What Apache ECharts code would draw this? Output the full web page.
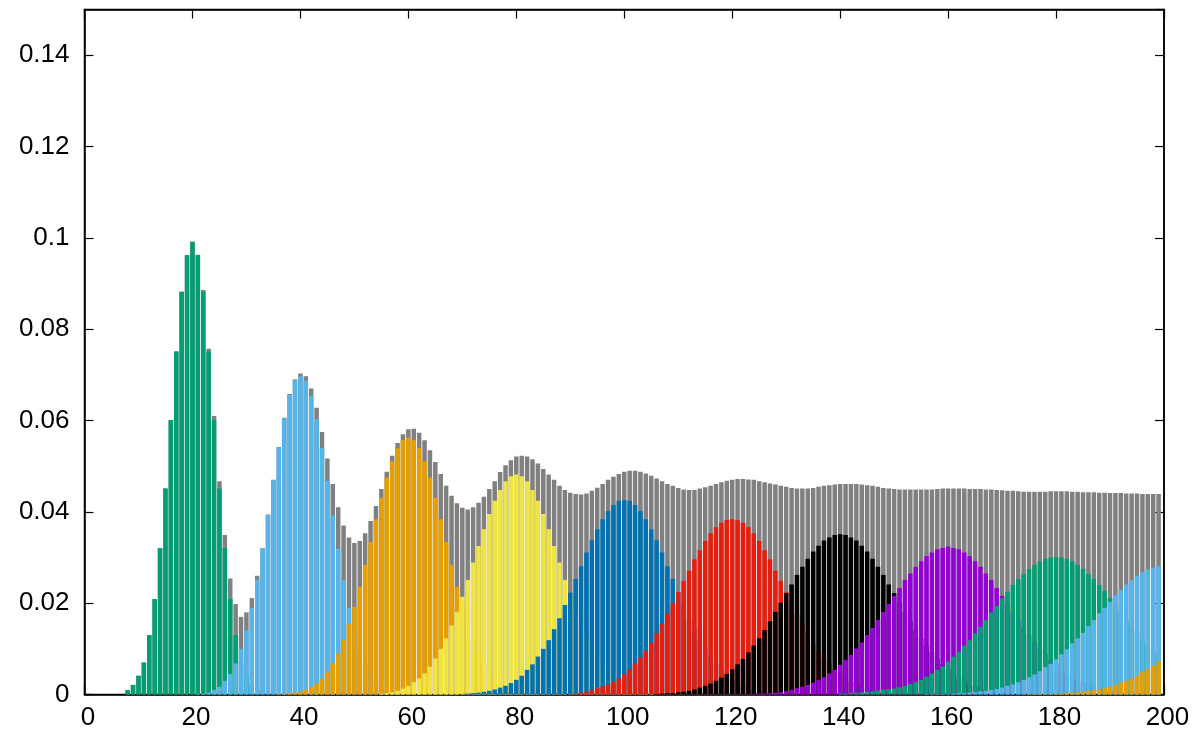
<!DOCTYPE html>
<html>
<head>
<meta charset="utf-8">
<script src="https://cdn.jsdelivr.net/npm/echarts@6/dist/echarts.min.js"></script>
<style>
html,body{margin:0;padding:0;background:#fff;}
#chart{width:1194px;height:731px;}
</style>
</head>
<body>
<div id="chart"></div>
<script>
// ---- tick labels ----
const xTickValues = [0, 20, 40, 60, 80, 100, 120, 140, 160, 180, 200];
const yTickValues = [0, 0.02, 0.04, 0.06, 0.08, 0.1, 0.12, 0.14];

// ---- total (gray), x = 8..199 ----
const totalStart = 8;
const totalValues = [
  0.0010,0.0021,0.0041,0.0070,0.0130,0.0209,0.0320,0.0451,0.0601,0.0751,0.0882,0.0962,0.0992,
  0.0963,0.0886,0.0757,0.0610,0.0467,0.0349,0.0254,0.0198,0.0170,0.0180,
  0.0211,0.0260,0.0320,0.0394,0.0470,0.0542,0.0606,0.0658,0.0690,0.0703,
  0.0697,0.0670,0.0628,0.0575,0.0517,0.0461,0.0410,0.0370,0.0344,0.0332,
  0.0336,0.0353,0.0380,0.0413,0.0450,0.0488,0.0523,0.0551,0.0570,0.0581,
  0.0582,0.0573,0.0557,0.0535,0.0509,0.0483,0.0457,0.0435,0.0419,0.0409,
  0.0405,0.0410,0.0420,0.0433,0.0450,0.0467,0.0487,0.0502,0.0513,0.0521,
  0.0523,0.0521,0.0515,0.0506,0.0494,0.0482,0.0470,0.0457,0.0448,0.0442,
  0.0439,0.0438,0.0440,0.0446,0.0453,0.0461,0.0470,0.0477,0.0483,0.0488,
  0.0490,0.0490,0.0488,0.0484,0.0479,0.0473,0.0467,0.0461,0.0457,0.0452,
  0.0449,0.0448,0.0448,0.0451,0.0454,0.0457,0.0461,0.0465,0.0468,0.0470,
  0.0472,0.0472,0.0471,0.0470,0.0467,0.0465,0.0462,0.0460,0.0457,0.0455,
  0.0452,0.0451,0.0451,0.0451,0.0452,0.0455,0.0457,0.0458,0.0460,0.0461,
  0.0461,0.0461,0.0461,0.0460,0.0458,0.0457,0.0455,0.0452,0.0451,0.0450,
  0.0449,0.0449,0.0449,0.0449,0.0449,0.0449,0.0449,0.0450,0.0451,0.0451,
  0.0451,0.0451,0.0451,0.0450,0.0450,0.0450,0.0449,0.0449,0.0448,0.0447,
  0.0446,0.0446,0.0445,0.0444,0.0444,0.0444,0.0444,0.0444,0.0445,0.0445,
  0.0445,0.0445,0.0444,0.0444,0.0443,0.0443,0.0443,0.0442,0.0442,0.0441,
  0.0441,0.0441,0.0440,0.0440,0.0440,0.0439,0.0439,0.0439,0.0439
];

// ---- individual distributions ----
const k1Start = 8;
const k1Values = [0.0010,0.0021,0.0041,0.0070,0.0130,0.0209,0.0320,0.0451,0.0601,0.0751,0.0882,0.0962,0.0991,
  0.0962,0.0882,0.0751,0.0601,0.0451,0.0321,0.0209,0.0130,0.0070,0.0041,0.0021,0.0010];

const k2Start = 21;
const k2Values = [0.0001,0.0002,0.0004,0.0010,0.0017,0.0030,0.0045,0.0068,0.0100,0.0140,0.0190,0.0251,0.0319,
  0.0393,0.0469,0.0541,0.0605,0.0656,0.0687,0.0697,0.0687,0.0654,0.0603,0.0540,0.0468,0.0392,0.0319,
  0.0251,0.0190,0.0140,0.0100,0.0068,0.0045,0.0030,0.0017,0.0010,0.0004,0.0002,0.0001];

const k3Start = 36;
const k3Values = [0.0001,0.0002,0.0003,0.0004,0.0006,0.0011,0.0016,0.0024,0.0035,0.0050,0.0068,0.0090,0.0119,
  0.0154,0.0192,0.0236,0.0284,0.0334,0.0384,0.0431,0.0475,0.0511,0.0539,0.0557,0.0563,
  0.0557,0.0539,0.0511,0.0475,0.0431,0.0384,0.0334,0.0284,0.0236,0.0192,0.0154,0.0119,
  0.0090,0.0068,0.0050,0.0035,0.0024,0.0016,0.0011,0.0006,0.0004,0.0003,0.0002,0.0001];

const k4Start = 55;
const k4Values = [0.0002,0.0003,0.0005,0.0008,0.0013,0.0019,0.0027,0.0035,0.0046,0.0061,0.0079,0.0100,0.0123,
  0.0151,0.0181,0.0214,0.0251,0.0289,0.0325,0.0362,0.0395,0.0424,0.0448,0.0467,0.0478,0.0482,
  0.0478,0.0467,0.0448,0.0424,0.0395,0.0362,0.0325,0.0289,0.0251,0.0214,0.0181,0.0151,0.0123,
  0.0100,0.0079,0.0061,0.0046,0.0035,0.0027,0.0019,0.0013,0.0008,0.0005,0.0003,0.0002];

const k5Start = 70;
const k5Values = [0.0001,0.0002,0.0003,0.0004,0.0006,0.0008,0.0011,0.0015,0.0019,0.0025,0.0032,0.0041,0.0054,
  0.0066,0.0083,0.0100,0.0119,0.0143,0.0167,0.0196,0.0223,0.0253,0.0281,0.0311,0.0338,0.0362,
  0.0384,0.0402,0.0415,0.0424,0.0426,
  0.0424,0.0415,0.0402,0.0384,0.0362,0.0338,0.0311,0.0281,0.0253,0.0223,0.0196,0.0167,0.0143,
  0.0119,0.0100,0.0083,0.0066,0.0054,0.0041,0.0032,0.0025,0.0019,0.0015,0.0011,0.0008,0.0006,
  0.0004,0.0003,0.0002,0.0001];

const k6Start = 90;
const k6Values = [0.0001,0.0002,0.0004,0.0006,0.0010,0.0014,0.0018,0.0022,0.0028,0.0035,0.0045,0.0055,0.0068,
  0.0081,0.0096,0.0113,0.0134,0.0155,0.0177,0.0200,0.0224,0.0249,0.0271,0.0296,0.0316,0.0336,
  0.0353,0.0366,0.0376,0.0382,0.0384,
  0.0382,0.0376,0.0366,0.0353,0.0336,0.0316,0.0296,0.0271,0.0249,0.0224,0.0200,0.0177,0.0155,
  0.0134,0.0113,0.0096,0.0081,0.0068,0.0055,0.0045,0.0035,0.0028,0.0022,0.0018,0.0014,0.0010,
  0.0006,0.0004,0.0002,0.0001];

const k7Start = 106;
const k7Values = [0.0001,0.0002,0.0003,0.0003,0.0005,0.0006,0.0008,0.0011,0.0015,0.0019,0.0024,0.0030,0.0037,
  0.0045,0.0055,0.0066,0.0078,0.0092,0.0107,0.0123,0.0141,0.0161,0.0181,0.0201,0.0222,0.0241,
  0.0262,0.0280,0.0297,0.0313,0.0326,0.0337,0.0344,0.0349,0.0351,
  0.0349,0.0344,0.0337,0.0326,0.0313,0.0297,0.0280,0.0262,0.0241,0.0222,0.0201,0.0181,0.0161,
  0.0141,0.0123,0.0107,0.0092,0.0078,0.0066,0.0055,0.0045,0.0037,0.0030,0.0024,0.0019,0.0015,
  0.0011,0.0008,0.0006,0.0005,0.0003,0.0003,0.0002,0.0001];

const k8Start = 124;
const k8Values = [0.0001,0.0002,0.0002,0.0003,0.0004,0.0005,0.0007,0.0010,0.0014,0.0017,0.0021,0.0026,0.0032,
  0.0038,0.0046,0.0054,0.0065,0.0076,0.0087,0.0101,0.0114,0.0130,0.0146,0.0163,0.0181,0.0198,
  0.0216,0.0233,0.0251,0.0265,0.0280,0.0292,0.0303,0.0311,0.0318,0.0321,0.0324,
  0.0321,0.0318,0.0311,0.0303,0.0292,0.0280,0.0265,0.0251,0.0233,0.0216,0.0198,0.0181,0.0163,
  0.0146,0.0130,0.0114,0.0101,0.0087,0.0076,0.0065,0.0054,0.0046,0.0038,0.0032,0.0026,0.0021,
  0.0017,0.0014,0.0010,0.0007,0.0005,0.0004,0.0003,0.0002,0.0002,0.0001];

const k9Start = 140;
const k9Values = [0.0002,0.0002,0.0003,0.0004,0.0005,0.0006,0.0007,0.0009,0.0011,0.0012,0.0013,0.0016,0.0019,
  0.0023,0.0027,0.0032,0.0039,0.0046,0.0054,0.0061,0.0072,0.0083,0.0094,0.0107,0.0119,0.0134,
  0.0148,0.0163,0.0180,0.0194,0.0211,0.0225,0.0240,0.0253,0.0264,0.0275,0.0284,0.0291,0.0297,
  0.0300,0.0301,
  0.0300,0.0297,0.0291,0.0284,0.0275,0.0264,0.0253,0.0240,0.0227,0.0211,0.0194,0.0180,0.0163,
  0.0148,0.0134,0.0119,0.0107,0.0094,0.0083];

const k10Start = 156;
const k10Values = [0.0001,0.0001,0.0001,0.0001,0.0001,0.0002,0.0003,0.0003,0.0004,0.0005,0.0007,0.0008,0.0010,
  0.0012,0.0015,0.0019,0.0022,0.0027,0.0032,0.0038,0.0044,0.0051,0.0060,0.0067,0.0077,0.0088,
  0.0099,0.0112,0.0123,0.0135,0.0150,0.0163,0.0178,0.0190,0.0203,0.0218,0.0229,0.0241,0.0251,
  0.0260,0.0268,0.0274,0.0278,0.0281];

const k11Start = 175;
const k11Values = [0.0001,0.0001,0.0001,0.0001,0.0001,0.0002,0.0002,0.0003,0.0004,0.0005,0.0006,0.0008,0.0010,
  0.0011,0.0014,0.0017,0.0021,0.0026,0.0030,0.0035,0.0041,0.0049,0.0056,0.0063,0.0072];

const seriesColors = ['#808080','#009e73','#56b4e9','#e69f00','#f0e442','#0072b2','#e51e10','#000000','#9400d3','#009e73','#56b4e9','#e69f00'];
const seriesList = [
  [totalStart, totalValues],
  [k1Start, k1Values], [k2Start, k2Values], [k3Start, k3Values], [k4Start, k4Values],
  [k5Start, k5Values], [k6Start, k6Values], [k7Start, k7Values], [k8Start, k8Values],
  [k9Start, k9Values], [k10Start, k10Values], [k11Start, k11Values]
];

const FONT = 'Liberation Sans, Arial, Helvetica, sans-serif';
const chart = echarts.init(document.getElementById('chart'), null, {renderer: 'canvas'});

const series = seriesList.map(function (s, i) {
  return {
    type: 'bar',
    xAxisIndex: 0,
    yAxisIndex: 0,
    barWidth: 4.5,
    barGap: '-100%',
    silent: true,
    animation: false,
    itemStyle: { color: seriesColors[i] },
    data: s[1].map(function (v, j) { return [s[0] + j, v]; })
  };
});
// empty series so the mirrored top/right axes are laid out
series.push({ type: 'line', xAxisIndex: 1, yAxisIndex: 1, data: [], silent: true, showSymbol: false });

function axisLine() { return { show: true, onZero: false, lineStyle: { color: '#000', width: 1.5 } }; }
function axisTick() { return { show: true, inside: true, length: 9, lineStyle: { color: '#000', width: 1.2 } }; }

chart.setOption({
  animation: false,
  backgroundColor: '#fff',
  grid: { left: 84.5, right: 30, top: 9.5, bottom: 36.5, show: true, borderColor: '#000', borderWidth: 1.5, backgroundColor: 'transparent' },
  xAxis: [
    {
      type: 'value', min: 0, max: 200, interval: 20, position: 'bottom',
      axisLine: axisLine(), axisTick: axisTick(), splitLine: { show: false },
      axisLabel: {
        color: '#000', fontSize: 26, fontFamily: FONT, margin: 10, padding: [0, 0, 0, 7],
        formatter: function (v) { return xTickValues.indexOf(v) >= 0 ? String(v) : ''; }
      }
    },
    {
      type: 'value', min: 0, max: 200, interval: 20, position: 'top',
      axisLine: axisLine(), axisTick: axisTick(), splitLine: { show: false },
      axisLabel: { show: false }
    }
  ],
  yAxis: [
    {
      type: 'value', min: 0, max: 0.15, interval: 0.02, position: 'left',
      axisLine: axisLine(), axisTick: axisTick(), splitLine: { show: false },
      axisLabel: {
        color: '#000', fontSize: 26, fontFamily: FONT, margin: 15, showMaxLabel: false,
        formatter: function (v) {
          for (let i = 0; i < yTickValues.length; i++) {
            if (Math.abs(yTickValues[i] - v) < 1e-9) return String(yTickValues[i]);
          }
          return '';
        }
      }
    },
    {
      type: 'value', min: 0, max: 0.15, interval: 0.02, position: 'right',
      axisLine: axisLine(), axisTick: axisTick(), splitLine: { show: false },
      axisLabel: { show: false }
    }
  ],
  series: series
});
</script>
</body>
</html>
